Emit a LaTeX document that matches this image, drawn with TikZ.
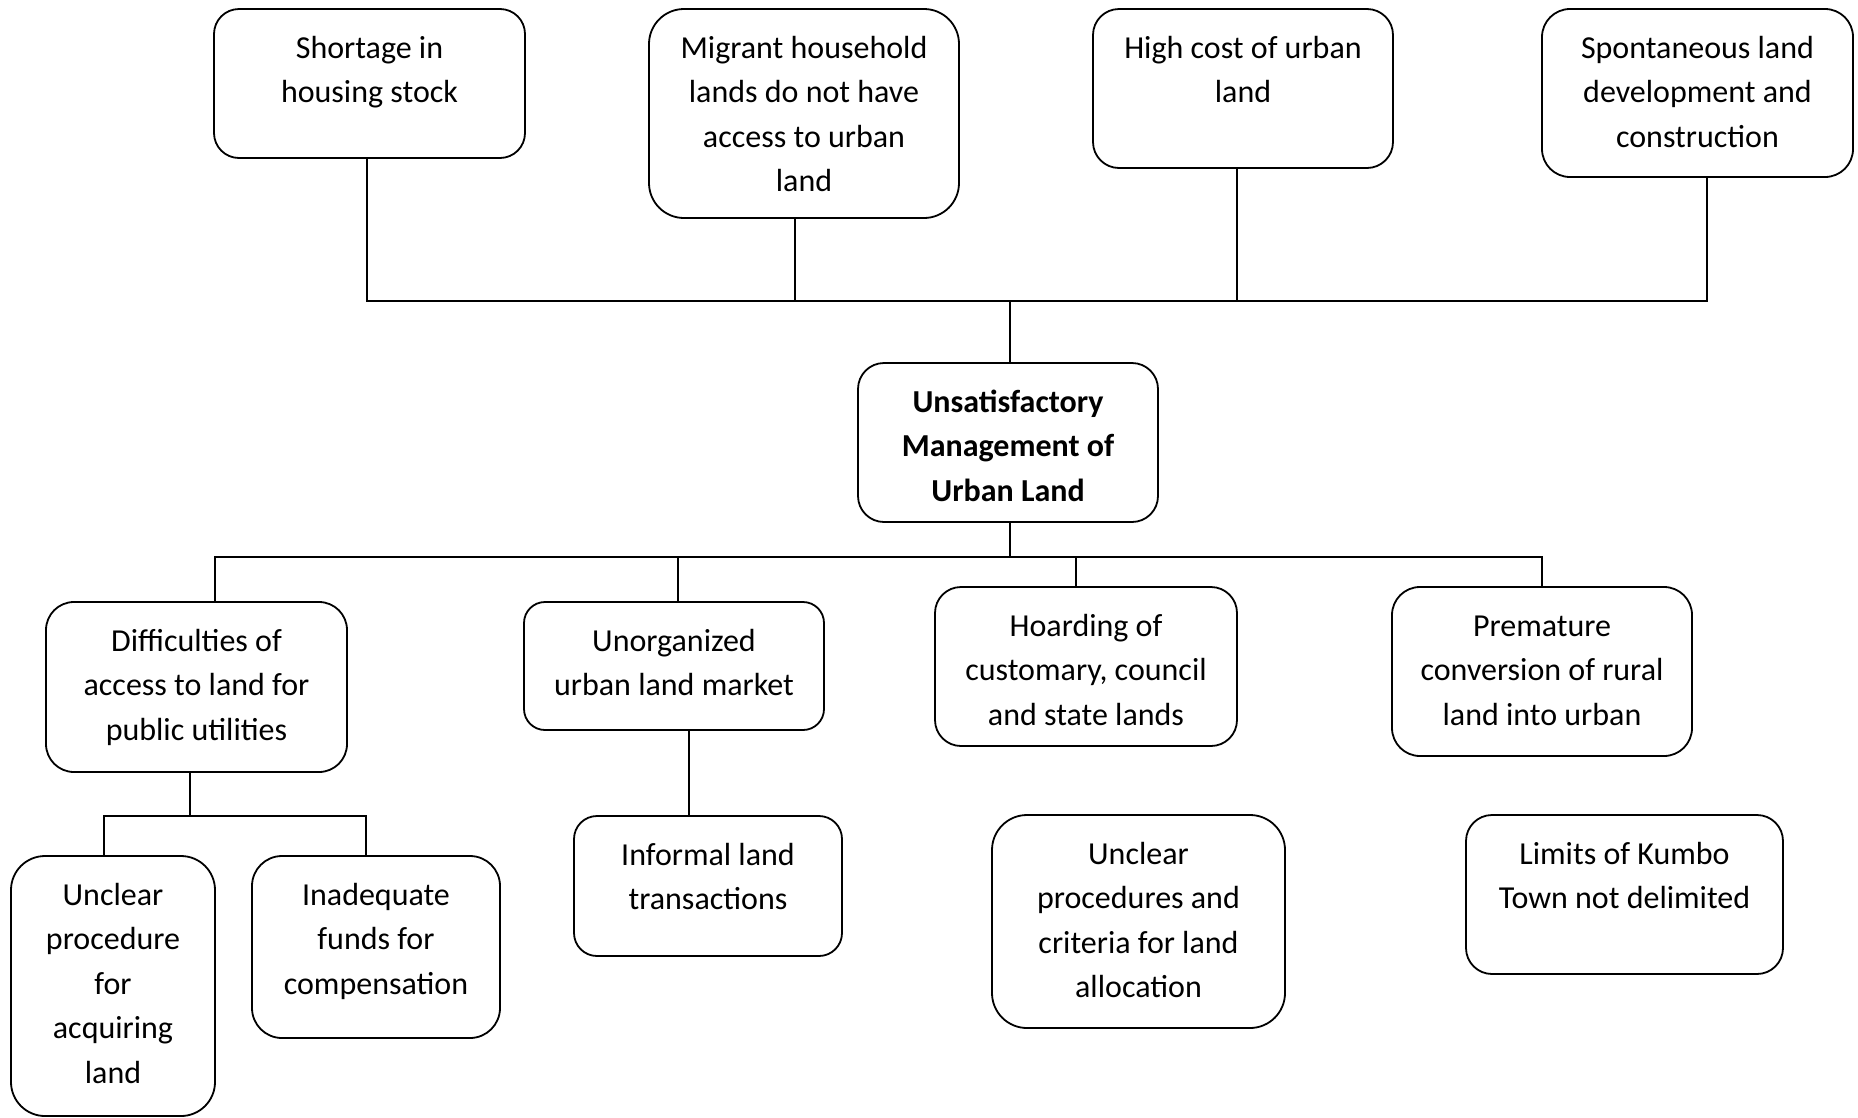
\documentclass[tikz,border=0pt]{standalone}
\usepackage{fontspec}
\setmainfont{Carlito}
\newcommand\bxt[3]{\parbox[c][#2pt][t]{#1pt}{\centering\fontsize{32}{44.5}\selectfont\rule{0pt}{49pt}#3}}
\begin{document}
\begin{tikzpicture}[x=1pt,y=-1pt,
  box/.style={draw, line width=1.8pt, inner sep=0pt, outer sep=0pt, anchor=north west, rounded corners=#1pt},
  conn/.style={line width=1.5pt}]
\useasboundingbox (0,0) rectangle (1858,1117);
% top row
\node[box=25] (shortage) at (214,9) {\bxt{311}{149}{Shortage in\\housing stock}};
\node[box=35] (migrant) at (649,9) {\bxt{310}{209}{Migrant household\\lands do not have\\access to urban\\land}};
\node[box=26] (highcost) at (1093,9) {\bxt{300}{159}{High cost of urban\\land}};
\node[box=28] (spont) at (1542,9) {\bxt{311}{168}{Spontaneous land\\development and\\construction}};
% centre
\node[box=26] (centre) at (858,363) {\bxt{300}{159}{\bfseries Unsatisfactory\\Management of\\Urban Land}};
% second row
\node[box=28] (diff) at (46,602) {\bxt{301}{170}{Difficulties of\\access to land for\\public utilities}};
\node[box=21] (unorg) at (524,602) {\bxt{300}{128}{Unorganized\\urban land market}};
\node[box=26] (hoard) at (935,587) {\bxt{302}{159}{Hoarding of\\customary, council\\and state lands}};
\node[box=28] (prem) at (1392,587) {\bxt{300}{169}{Premature\\conversion of rural\\land into urban}};
% third row
\node[box=34] (unclearproc) at (11,856) {\bxt{204}{260}{Unclear\\procedure\\for\\acquiring\\land}};
\node[box=30] (inadequate) at (252,856) {\bxt{248}{182}{Inadequate\\funds for\\compensation}};
\node[box=23] (informal) at (574,816) {\bxt{268}{140}{Informal land\\transactions}};
\node[box=35] (unclearalloc) at (992,815) {\bxt{293}{213}{Unclear\\procedures and\\criteria for land\\allocation}};
\node[box=26] (limits) at (1466,815) {\bxt{317}{159}{Limits of Kumbo\\Town not delimited}};
% junction coordinates
\coordinate (t1) at (367,301);
\coordinate (t2) at (795,301);
\coordinate (t3) at (1237,301);
\coordinate (t4) at (1707,301);
\coordinate (tc) at (1010,301);
\coordinate (b1) at (215,557);
\coordinate (b2) at (678,557);
\coordinate (b3) at (1076,557);
\coordinate (b4) at (1542,557);
\coordinate (bc) at (1010,557);
\coordinate (s0) at (190,816);
\coordinate (s1) at (104,816);
\coordinate (s2) at (366,816);
\coordinate (u0) at (689,816);
% top connectors
\draw[conn] (t1 |- shortage.south) -- (t1) -- (t4) -- (t4 |- spont.south);
\draw[conn] (t2 |- migrant.south) -- (t2);
\draw[conn] (t3 |- highcost.south) -- (t3);
\draw[conn] (tc) -- (tc |- centre.north);
% lower connectors
\draw[conn] (bc |- centre.south) -- (bc);
\draw[conn] (b1 |- diff.north) -- (b1) -- (b4) -- (b4 |- prem.north);
\draw[conn] (b2) -- (b2 |- unorg.north);
\draw[conn] (b3) -- (b3 |- hoard.north);
% difficulties sub-branch
\draw[conn] (s0 |- diff.south) -- (s0);
\draw[conn] (s1 |- unclearproc.north) -- (s1) -- (s2) -- (s2 |- inadequate.north);
% unorganized to informal
\draw[conn] (u0 |- unorg.south) -- (u0 |- informal.north);
\end{tikzpicture}
\end{document}
